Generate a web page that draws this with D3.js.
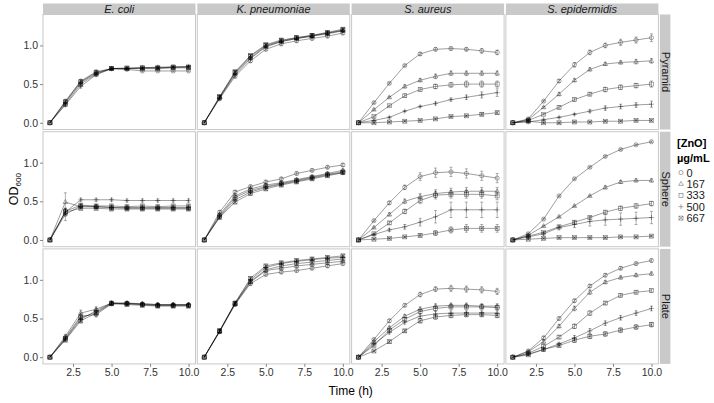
<!DOCTYPE html>
<html><head><meta charset="utf-8">
<script src="https://cdn.jsdelivr.net/npm/d3@7"></script>
<style>html,body{margin:0;padding:0;background:#fff;}svg{display:block;font-family:"Liberation Sans",Arial,sans-serif;}</style>
</head><body><svg id="c" width="714" height="403"></svg>
<script>
const species = ["E. coli", "K. pneumoniae", "S. aureus", "S. epidermidis"];
const morphologies = ["Pyramid", "Sphere", "Plate"];
const concentrations = ["0", "167", "333", "500", "667"];
const times = [1, 2, 3, 4, 5, 6, 7, 8, 9, 10];
const xTicks = [2.5, 5.0, 7.5, 10.0];
const yTicks = [0.0, 0.5, 1.0];

// OD600 values: one array per concentration (0,167,333,500,667)
const ecoliPyramid = [
  [0,0.28,0.54,0.66,0.70,0.69,0.67,0.67,0.67,0.67],
  [0,0.26,0.52,0.64,0.70,0.70,0.70,0.70,0.71,0.71],
  [0,0.27,0.53,0.65,0.70,0.71,0.71,0.71,0.72,0.72],
  [0,0.23,0.47,0.62,0.70,0.70,0.71,0.72,0.72,0.73],
  [0,0.24,0.50,0.63,0.70,0.70,0.71,0.71,0.72,0.72]];
const kpnPyramid = [
  [0,0.31,0.60,0.80,0.95,1.02,1.06,1.09,1.12,1.16],
  [0,0.33,0.64,0.84,0.99,1.05,1.09,1.12,1.15,1.19],
  [0,0.33,0.65,0.86,1.00,1.06,1.10,1.13,1.16,1.20],
  [0,0.32,0.62,0.83,0.98,1.05,1.09,1.12,1.16,1.19],
  [0,0.34,0.66,0.87,1.01,1.07,1.10,1.13,1.17,1.21]];
const saurPyramid = [
  [0,0.26,0.51,0.74,0.89,0.95,0.96,0.95,0.93,0.91],
  [0,0.17,0.33,0.47,0.55,0.60,0.64,0.64,0.64,0.64],
  [0,0.08,0.22,0.35,0.43,0.47,0.49,0.50,0.50,0.50],
  [0,0.03,0.07,0.15,0.21,0.25,0.30,0.33,0.36,0.39],
  [0,0.00,0.01,0.02,0.03,0.05,0.08,0.09,0.11,0.13]];
const sepiPyramid = [
  [0,0.05,0.28,0.54,0.75,0.91,1.00,1.04,1.07,1.10],
  [0,0.04,0.20,0.37,0.55,0.69,0.76,0.78,0.79,0.80],
  [0,0.03,0.11,0.20,0.30,0.37,0.43,0.46,0.48,0.50],
  [0,0.01,0.04,0.07,0.11,0.15,0.19,0.21,0.23,0.24],
  [0,0.02,0.00,0.00,0.01,0.01,0.02,0.02,0.03,0.03]];
const ecoliSphere = [
  [0,0.33,0.44,0.43,0.42,0.42,0.42,0.42,0.42,0.42],
  [0,0.49,0.43,0.43,0.42,0.41,0.41,0.41,0.41,0.41],
  [0,0.37,0.45,0.44,0.44,0.43,0.44,0.43,0.44,0.44],
  [0,0.36,0.52,0.52,0.52,0.51,0.51,0.51,0.51,0.51],
  [0,0.36,0.41,0.41,0.40,0.40,0.40,0.40,0.40,0.40]];
const kpnSphere = [
  [0,0.36,0.62,0.69,0.75,0.79,0.86,0.90,0.94,0.97],
  [0,0.33,0.57,0.66,0.71,0.74,0.78,0.82,0.86,0.90],
  [0,0.31,0.55,0.64,0.69,0.73,0.77,0.81,0.85,0.88],
  [0,0.30,0.52,0.62,0.68,0.72,0.76,0.80,0.84,0.87],
  [0,0.29,0.49,0.60,0.66,0.71,0.75,0.79,0.83,0.87]];
const saurSphere = [
  [0,0.25,0.48,0.68,0.82,0.87,0.88,0.86,0.83,0.80],
  [0,0.16,0.33,0.50,0.56,0.60,0.62,0.63,0.63,0.63],
  [0,0.08,0.22,0.37,0.51,0.58,0.59,0.59,0.59,0.57],
  [0,0.07,0.13,0.17,0.23,0.30,0.39,0.39,0.39,0.39],
  [0,0.01,0.02,0.04,0.06,0.09,0.13,0.15,0.15,0.15]];
const sepiSphere = [
  [0,0.08,0.27,0.57,0.79,0.94,1.08,1.17,1.23,1.27],
  [0,0.06,0.18,0.30,0.44,0.57,0.68,0.75,0.77,0.77],
  [0,0.05,0.10,0.17,0.23,0.29,0.36,0.41,0.44,0.47],
  [0,0.04,0.08,0.16,0.20,0.24,0.26,0.27,0.28,0.29],
  [0,0.01,0.02,0.03,0.03,0.03,0.03,0.04,0.04,0.05]];
const ecoliPlate = [
  [0,0.25,0.53,0.55,0.69,0.70,0.68,0.67,0.67,0.67],
  [0,0.27,0.57,0.62,0.70,0.70,0.69,0.68,0.68,0.68],
  [0,0.24,0.51,0.58,0.70,0.69,0.68,0.67,0.67,0.67],
  [0,0.23,0.49,0.60,0.70,0.69,0.69,0.68,0.68,0.68],
  [0,0.22,0.47,0.57,0.69,0.68,0.67,0.66,0.66,0.66]];
const kpnPlate = [
  [0,0.33,0.68,0.95,1.07,1.10,1.12,1.15,1.18,1.21],
  [0,0.33,0.69,0.97,1.12,1.15,1.18,1.20,1.22,1.24],
  [0,0.34,0.69,0.98,1.13,1.18,1.21,1.23,1.25,1.27],
  [0,0.34,0.70,1.00,1.16,1.21,1.24,1.26,1.28,1.29],
  [0,0.34,0.70,1.02,1.18,1.22,1.25,1.27,1.29,1.31]];
const saurPlate = [
  [0,0.23,0.47,0.67,0.81,0.88,0.89,0.88,0.87,0.85],
  [0,0.20,0.38,0.53,0.62,0.66,0.67,0.67,0.66,0.66],
  [0,0.15,0.35,0.49,0.59,0.63,0.65,0.65,0.65,0.64],
  [0,0.17,0.32,0.45,0.53,0.56,0.57,0.57,0.57,0.57],
  [0,0.08,0.20,0.34,0.47,0.52,0.54,0.55,0.55,0.54]];
const sepiPlate = [
  [0,0.08,0.25,0.50,0.73,0.92,1.06,1.15,1.21,1.25],
  [0,0.07,0.20,0.40,0.63,0.84,0.97,1.03,1.06,1.08],
  [0,0.05,0.14,0.26,0.40,0.57,0.70,0.80,0.84,0.86],
  [0,0.04,0.10,0.17,0.25,0.34,0.44,0.51,0.57,0.63],
  [0,0.03,0.10,0.15,0.22,0.27,0.30,0.35,0.39,0.42]];

// error bar half-widths (SD)
const ecoliPyramidErr = [
  [0,0.02,0.02,0.02,0.01,0.01,0.01,0.01,0.01,0.01],
  [0,0.02,0.02,0.02,0.01,0.01,0.01,0.01,0.01,0.01],
  [0,0.02,0.02,0.02,0.01,0.01,0.01,0.01,0.01,0.01],
  [0,0.02,0.02,0.02,0.01,0.01,0.01,0.01,0.01,0.01],
  [0,0.02,0.02,0.02,0.01,0.01,0.01,0.01,0.01,0.01]];
const kpnPyramidErr = [
  [0,0.02,0.02,0.02,0.02,0.02,0.02,0.02,0.02,0.02],
  [0,0.02,0.02,0.02,0.02,0.02,0.02,0.02,0.02,0.02],
  [0,0.02,0.02,0.02,0.02,0.02,0.02,0.02,0.02,0.02],
  [0,0.02,0.02,0.02,0.02,0.02,0.02,0.02,0.02,0.02],
  [0,0.02,0.02,0.02,0.02,0.02,0.02,0.02,0.02,0.02]];
const saurPyramidErr = [
  [0,0.01,0.01,0.01,0.02,0.02,0.02,0.02,0.03,0.03],
  [0,0.01,0.01,0.02,0.02,0.03,0.03,0.03,0.03,0.03],
  [0,0.01,0.01,0.02,0.02,0.03,0.03,0.04,0.04,0.04],
  [0,0.01,0.01,0.01,0.01,0.02,0.02,0.03,0.04,0.05],
  [0,0.01,0.01,0.01,0.01,0.01,0.01,0.01,0.02,0.02]];
const sepiPyramidErr = [
  [0,0.01,0.01,0.02,0.03,0.03,0.03,0.04,0.04,0.05],
  [0,0.01,0.01,0.02,0.02,0.02,0.02,0.02,0.03,0.03],
  [0,0.01,0.01,0.02,0.02,0.02,0.03,0.03,0.03,0.04],
  [0,0.01,0.01,0.01,0.01,0.02,0.03,0.03,0.03,0.04],
  [0,0.01,0.01,0.01,0.01,0.01,0.01,0.01,0.01,0.01]];
const ecoliSphereErr = [
  [0,0.08,0.02,0.02,0.02,0.02,0.02,0.02,0.02,0.02],
  [0,0.12,0.02,0.02,0.02,0.02,0.02,0.02,0.02,0.02],
  [0,0.04,0.02,0.02,0.02,0.02,0.02,0.02,0.02,0.02],
  [0,0.04,0.02,0.02,0.02,0.02,0.02,0.02,0.02,0.02],
  [0,0.04,0.02,0.02,0.02,0.02,0.02,0.02,0.02,0.02]];
const kpnSphereErr = [
  [0,0.02,0.02,0.02,0.02,0.02,0.02,0.02,0.02,0.02],
  [0,0.02,0.02,0.02,0.02,0.02,0.02,0.02,0.02,0.02],
  [0,0.02,0.02,0.02,0.02,0.02,0.02,0.02,0.02,0.02],
  [0,0.02,0.02,0.02,0.02,0.02,0.02,0.02,0.02,0.02],
  [0,0.02,0.02,0.02,0.02,0.02,0.02,0.02,0.02,0.02]];
const saurSphereErr = [
  [0,0.01,0.02,0.03,0.05,0.06,0.06,0.06,0.06,0.06],
  [0,0.01,0.02,0.03,0.04,0.05,0.05,0.05,0.05,0.05],
  [0,0.01,0.02,0.03,0.04,0.05,0.05,0.05,0.05,0.05],
  [0,0.01,0.02,0.03,0.05,0.08,0.10,0.10,0.10,0.10],
  [0,0.01,0.01,0.01,0.02,0.03,0.04,0.05,0.05,0.05]];
const sepiSphereErr = [
  [0,0.01,0.01,0.01,0.01,0.01,0.01,0.01,0.01,0.01],
  [0,0.01,0.01,0.01,0.01,0.01,0.02,0.02,0.02,0.02],
  [0,0.01,0.01,0.01,0.02,0.02,0.02,0.03,0.03,0.03],
  [0,0.01,0.02,0.03,0.04,0.06,0.07,0.08,0.08,0.08],
  [0,0.01,0.01,0.01,0.01,0.01,0.01,0.01,0.01,0.01]];
const ecoliPlateErr = [
  [0,0.02,0.04,0.03,0.02,0.02,0.02,0.02,0.02,0.02],
  [0,0.02,0.04,0.03,0.02,0.02,0.02,0.02,0.02,0.02],
  [0,0.02,0.03,0.03,0.02,0.02,0.02,0.02,0.02,0.02],
  [0,0.02,0.03,0.03,0.02,0.02,0.02,0.02,0.02,0.02],
  [0,0.02,0.03,0.03,0.02,0.02,0.02,0.02,0.02,0.02]];
const kpnPlateErr = [
  [0,0.02,0.02,0.02,0.02,0.02,0.02,0.02,0.02,0.02],
  [0,0.02,0.02,0.02,0.02,0.02,0.02,0.02,0.02,0.02],
  [0,0.02,0.02,0.02,0.02,0.02,0.02,0.02,0.02,0.02],
  [0,0.02,0.02,0.02,0.02,0.02,0.02,0.02,0.02,0.02],
  [0,0.02,0.02,0.02,0.02,0.02,0.02,0.02,0.02,0.02]];
const saurPlateErr = [
  [0,0.01,0.02,0.02,0.03,0.03,0.04,0.04,0.04,0.04],
  [0,0.01,0.02,0.02,0.03,0.03,0.03,0.03,0.03,0.03],
  [0,0.01,0.02,0.02,0.03,0.03,0.03,0.03,0.03,0.03],
  [0,0.01,0.02,0.02,0.03,0.03,0.03,0.03,0.03,0.03],
  [0,0.01,0.02,0.02,0.03,0.03,0.03,0.03,0.03,0.03]];
const sepiPlateErr = [
  [0,0.01,0.02,0.02,0.02,0.02,0.02,0.02,0.02,0.02],
  [0,0.01,0.02,0.02,0.03,0.03,0.02,0.02,0.02,0.02],
  [0,0.01,0.02,0.02,0.03,0.03,0.02,0.02,0.02,0.02],
  [0,0.01,0.02,0.02,0.03,0.03,0.03,0.03,0.03,0.03],
  [0,0.01,0.02,0.02,0.03,0.03,0.03,0.03,0.03,0.03]];

const panelData = {
  "Pyramid": [[ecoliPyramid, ecoliPyramidErr],[kpnPyramid, kpnPyramidErr],[saurPyramid, saurPyramidErr],[sepiPyramid, sepiPyramidErr]],
  "Sphere":  [[ecoliSphere, ecoliSphereErr],[kpnSphere, kpnSphereErr],[saurSphere, saurSphereErr],[sepiSphere, sepiSphereErr]],
  "Plate":   [[ecoliPlate, ecoliPlateErr],[kpnPlate, kpnPlateErr],[saurPlate, saurPlateErr],[sepiPlate, sepiPlateErr]]
};

// ---------- layout ----------
const svg = d3.select("#c");
const colX0 = 43, colPitch = 154.3, panelW = 152.5;
const rowY0 = 14.5, rowPitch = 117.2, panelH = 115;
const stripH = 10.5;

const x = d3.scaleLinear().domain([0.55, 10.45]).range([0, panelW]);
const y = d3.scaleLinear().domain([-0.087, 1.40]).range([panelH, 0]);

function drawSymbol(g, k, px, py) {
  const s = g.append("g").attr("transform", `translate(${px},${py})`)
    .attr("fill", "none").attr("stroke", "#000").attr("stroke-opacity", 0.55).attr("stroke-width", 0.6);
  if (k === 0) s.append("circle").attr("r", 2.1);
  else if (k === 1) s.append("path").attr("d", "M0,-2.5L2.3,1.5L-2.3,1.5Z");
  else if (k === 2) s.append("rect").attr("x", -2).attr("y", -2).attr("width", 4).attr("height", 4);
  else if (k === 3) s.append("path").attr("d", "M-2.6,0H2.6M0,-2.6V2.6");
  else { s.append("rect").attr("x", -2).attr("y", -2).attr("width", 4).attr("height", 4);
         s.append("path").attr("d", "M-2,-2L2,2M-2,2L2,-2"); }
}

morphologies.forEach((m, ri) => {
  species.forEach((sp, ci) => {
    const px = colX0 + ci * colPitch, py = rowY0 + ri * rowPitch;
    const g = svg.append("g").attr("transform", `translate(${px},${py})`);
    g.append("rect").attr("width", panelW).attr("height", panelH).attr("fill", "#fff")
      .attr("stroke", "#c8c8c8").attr("stroke-width", 1);
    const [vals, errs] = panelData[m][ci];
    const line = d3.line().x((d, i) => x(times[i])).y(d => y(d));
    vals.forEach((series, k) => {
      g.append("path").attr("d", line(series)).attr("fill", "none")
        .attr("stroke", "#000").attr("stroke-opacity", 0.55).attr("stroke-width", 0.7);
      series.forEach((v, i) => {
        const e = errs[k][i];
        if (e > 0) {
          const xx = x(times[i]);
          g.append("path").attr("d", `M${xx},${y(v - e)}V${y(v + e)}M${xx - 1.5},${y(v - e)}H${xx + 1.5}M${xx - 1.5},${y(v + e)}H${xx + 1.5}`)
            .attr("stroke", "#000").attr("stroke-opacity", 0.5).attr("stroke-width", 0.6).attr("fill", "none");
        }
      });
    });
    vals.forEach((series, k) => series.forEach((v, i) => drawSymbol(g, k, x(times[i]), y(v))));

    if (ri === 0) {
      svg.append("rect").attr("x", px).attr("y", py - stripH - 0.5).attr("width", panelW).attr("height", stripH)
        .attr("fill", "#c9c9c9");
      svg.append("text").attr("x", px + panelW / 2).attr("y", py - 1.7).attr("text-anchor", "middle")
        .attr("font-size", 11).attr("font-style", "italic").attr("fill", "#1a1a1a").text(sp);
    }
    if (ci === 0) {
      const ya = d3.axisLeft(y).tickValues(yTicks).tickFormat(d3.format(".1f")).tickSize(3).tickPadding(2);
      const ag = g.append("g").call(ya);
      ag.select(".domain").remove();
      ag.selectAll("line").attr("stroke", "#888");
      ag.selectAll("text").attr("font-size", 10.5).attr("fill", "#333").attr("font-family", "Liberation Sans, Arial, sans-serif");
    }
    if (ri === morphologies.length - 1) {
      const xa = d3.axisBottom(x).tickValues(xTicks).tickFormat(d3.format(".1f")).tickSize(3).tickPadding(2);
      const ag = g.append("g").attr("transform", `translate(0,${panelH})`).call(xa);
      ag.select(".domain").remove();
      ag.selectAll("line").attr("stroke", "#888");
      ag.selectAll("text").attr("font-size", 10.5).attr("fill", "#333").attr("font-family", "Liberation Sans, Arial, sans-serif");
    }
  });
  const sx = colX0 + 3 * colPitch + panelW + 1.5;
  const sy = rowY0 + ri * rowPitch;
  svg.append("rect").attr("x", sx).attr("y", sy).attr("width", stripH).attr("height", panelH).attr("fill", "#c9c9c9");
  svg.append("text").attr("transform", `translate(${sx + 1.8},${sy + panelH / 2}) rotate(90)`)
    .attr("text-anchor", "middle").attr("font-size", 11).attr("fill", "#1a1a1a").text(m);
});

svg.append("text").attr("x", colX0 + (3 * colPitch + panelW) / 2).attr("y", 395).attr("text-anchor", "middle")
  .attr("font-size", 12).attr("fill", "#000").text("Time (h)");
const yt = svg.append("text").attr("transform", `translate(18,${rowY0 + (2 * rowPitch + panelH) / 2}) rotate(-90)`)
  .attr("text-anchor", "middle").attr("font-size", 12.5).attr("fill", "#000");
yt.append("tspan").text("OD");
yt.append("tspan").attr("font-size", 8).attr("dy", 3).text("600");

const lx = 677;
svg.append("text").attr("x", lx).attr("y", 147).attr("font-size", 11).attr("font-weight", "bold").text("[ZnO]");
svg.append("text").attr("x", lx).attr("y", 161.5).attr("font-size", 11).attr("font-weight", "bold").text("µg/mL");
const lg = svg.append("g");
concentrations.forEach((c, k) => {
  const yy = 172.5 + k * 11.4;
  drawSymbol(lg, k, 681, yy);
  lg.append("text").attr("x", 686.5).attr("y", yy + 4).attr("font-size", 11).attr("fill", "#1a1a1a").text(c);
});
</script></body></html>
